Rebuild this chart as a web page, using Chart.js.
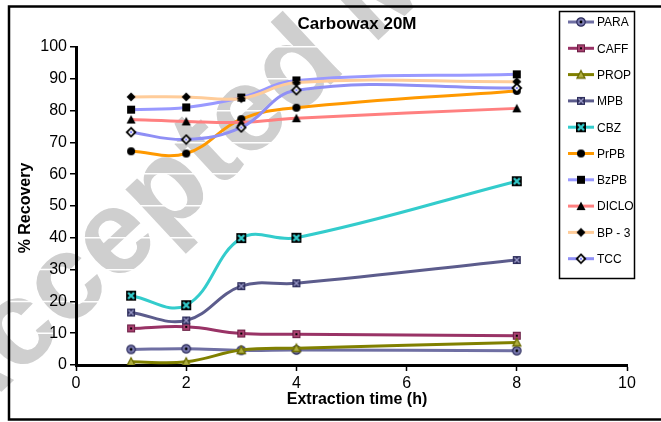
<!DOCTYPE html>
<html>
<head>
<meta charset="utf-8">
<script src="https://cdn.jsdelivr.net/npm/chart.js@4.4.0/dist/chart.umd.min.js"></script>
<style>
  html, body { margin: 0; padding: 0; background: #fff; }
  #wrap { width: 661px; height: 422px; position: relative; }
</style>
</head>
<body>
<div id="wrap"><canvas id="chartCarbowax" width="661" height="422"></canvas></div>
<script>
// extraction time (h)
var hours = [1, 2, 3, 4, 8];

// % recovery per compound
var para  = [4.9, 5.1, 4.6, 4.7, 4.5];
var caff  = [11.5, 12.0, 9.9, 9.7, 9.2];
var prop  = [1.0, 1.0, 4.7, 5.3, 7.1];
var mpb   = [16.5, 14.0, 24.8, 25.7, 33.0];
var cbz   = [21.8, 18.8, 39.9, 40.0, 57.8];
var prpb  = [67.2, 66.5, 77.3, 80.9, 86.2];
var bzpb  = [80.3, 81.0, 84.1, 89.5, 91.4];
var diclo = [77.2, 76.6, 76.3, 77.6, 80.7];
var bp3   = [84.3, 84.3, 83.8, 88.8, 89.1];
var tcc   = [73.2, 70.9, 74.7, 86.4, 87.1];

var names = ['PARA', 'CAFF', 'PROP', 'MPB', 'CBZ', 'PrPB', 'BzPB', 'DICLO', 'BP - 3', 'TCC'];
var series = [para, caff, prop, mpb, cbz, prpb, bzpb, diclo, bp3, tcc];
var yTicks = [0, 10, 20, 30, 40, 50, 60, 70, 80, 90, 100];
var xTicks = [0, 2, 4, 6, 8, 10];

var lineColors = ['#6f6fa3', '#993366', '#808000', '#5c5c8c', '#33cccc',
                  '#ff9900', '#9999ff', '#ff8080', '#ffcc99', '#8f8ff5'];

// small canvases used as point markers
function mk(size, draw) {
    var c = document.createElement('canvas');
    c.width = size; c.height = size;
    var g = c.getContext('2d');
    draw(g, size / 2);
    return c;
}
function tri(g, m, h) {
    g.beginPath();
    g.moveTo(m, m - h / 2 - 0.5);
    g.lineTo(m + h / 2 + 0.5, m + h / 2);
    g.lineTo(m - h / 2 - 0.5, m + h / 2);
    g.closePath();
}
function dia(g, m, r) {
    g.beginPath();
    g.moveTo(m, m - r); g.lineTo(m + r, m); g.lineTo(m, m + r); g.lineTo(m - r, m);
    g.closePath();
}

var markers = [
    mk(12, function(g, m) { // PARA
        g.beginPath(); g.arc(m, m, 4.2, 0, Math.PI * 2);
        g.fillStyle = '#7a7ab0'; g.fill();
        g.lineWidth = 1.2; g.strokeStyle = '#2b2b5c'; g.stroke();
        g.beginPath(); g.arc(m, m, 1.4, 0, Math.PI * 2); g.fillStyle = '#000'; g.fill();
    }),
    mk(10, function(g, m) { // CAFF
        g.fillStyle = '#a8406f'; g.fillRect(m - 3.5, m - 3.5, 7, 7);
        g.strokeStyle = '#6a1e44'; g.lineWidth = 1; g.strokeRect(m - 3.5, m - 3.5, 7, 7);
        g.fillStyle = '#000'; g.fillRect(m - 1, m - 1, 2, 2);
    }),
    mk(12, function(g, m) { // PROP
        tri(g, m, 7); g.fillStyle = '#b0b040'; g.fill();
        g.strokeStyle = '#6a6a00'; g.lineWidth = 1.3; g.stroke();
    }),
    mk(10, function(g, m) { // MPB
        g.fillStyle = '#2e2e5c'; g.fillRect(m - 4, m - 4, 8, 8);
        g.strokeStyle = '#9a9ac8'; g.lineWidth = 1.4;
        g.beginPath(); g.moveTo(m - 2.5, m - 2.5); g.lineTo(m + 2.5, m + 2.5);
        g.moveTo(m + 2.5, m - 2.5); g.lineTo(m - 2.5, m + 2.5); g.stroke();
    }),
    mk(12, function(g, m) { // CBZ
        g.fillStyle = '#000'; g.fillRect(m - 5, m - 5, 10, 10);
        g.strokeStyle = '#33cccc'; g.lineWidth = 2.4;
        g.beginPath(); g.moveTo(m - 3, m - 3); g.lineTo(m + 3, m + 3);
        g.moveTo(m + 3, m - 3); g.lineTo(m - 3, m + 3); g.stroke();
    }),
    mk(10, function(g, m) { // PrPB
        g.beginPath(); g.arc(m, m, 4, 0, Math.PI * 2); g.fillStyle = '#000'; g.fill();
    }),
    mk(10, function(g, m) { // BzPB
        g.fillStyle = '#000'; g.fillRect(m - 4, m - 4, 8, 8);
    }),
    mk(12, function(g, m) { // DICLO
        tri(g, m, 8); g.fillStyle = '#000'; g.fill();
    }),
    mk(12, function(g, m) { // BP-3
        dia(g, m, 4.5); g.fillStyle = '#000'; g.fill();
    }),
    mk(12, function(g, m) { // TCC
        dia(g, m, 4.3); g.fillStyle = '#fff'; g.fill();
        g.strokeStyle = '#000'; g.lineWidth = 1.8; g.stroke();
        g.beginPath(); g.arc(m, m, 1.1, 0, Math.PI * 2); g.fillStyle = '#6a6aff'; g.fill();
    })
];

var datasets = [];
for (var i = 0; i < series.length; i++) {
    datasets.push({
        label: names[i],
        data: hours.map(function(h, k) { return { x: h, y: series[i][k] }; }),
        borderColor: lineColors[i],
        borderWidth: 3,
        tension: 0.4,
        pointStyle: markers[i],
        pointRadius: 5,
        fill: false,
        order: series.length - i
    });
}

// watermark behind the plot, cut by white lines at the y ticks
var watermark = {
    id: 'watermark',
    beforeDraw: function(chart) {
        var g = chart.ctx;
        g.save();
        g.fillStyle = '#ffffff';
        g.fillRect(0, 0, chart.width, chart.height);
        g.save();
        g.translate(-47, 437);
        g.rotate(-43 * Math.PI / 180);
        g.font = 'bold 120px "Liberation Sans", Arial, sans-serif';
        g.fillStyle = '#cfcfcf';
        g.textBaseline = 'alphabetic';
        g.fillText('Accepted Manuscript', 0, 0);
        g.restore();
        var ys = chart.scales.y;
        g.strokeStyle = '#ffffff';
        g.lineWidth = 1.5;
        yTicks.forEach(function(v) {
            var py = ys.getPixelForValue(v);
            g.beginPath(); g.moveTo(10, py); g.lineTo(chart.chartArea.left, py); g.stroke();
        });
        g.restore();
    }
};

// titles, legend box and outer frame
var decor = {
    id: 'decor',
    afterDraw: function(chart) {
        var g = chart.ctx;
        g.save();
        g.fillStyle = '#000';
        g.textAlign = 'center';
        g.textBaseline = 'middle';
        g.font = 'bold 17px "Liberation Sans", Arial, sans-serif';
        g.fillText('Carbowax 20M', 357, 24);
        g.font = 'bold 16px "Liberation Sans", Arial, sans-serif';
        g.fillText('Extraction time (h)', 357, 400);
        g.save();
        g.translate(26, 208);
        g.rotate(-Math.PI / 2);
        g.font = 'bold 16px "Liberation Sans", Arial, sans-serif';
        g.fillText('% Recovery', 0, 0);
        g.restore();

        // legend
        g.fillStyle = '#fff';
        g.fillRect(559.5, 11.5, 75, 267);
        g.strokeStyle = '#000';
        g.lineWidth = 1.5;
        g.strokeRect(559.5, 11.5, 75, 267);
        g.font = '12px "Liberation Sans", Arial, sans-serif';
        g.textAlign = 'left';
        for (var i = 0; i < names.length; i++) {
            var y = 22 + i * 26.3;
            g.strokeStyle = lineColors[i];
            g.lineWidth = 3;
            g.beginPath(); g.moveTo(568, y); g.lineTo(594, y); g.stroke();
            var m = markers[i];
            g.drawImage(m, 581 - m.width / 2, y - m.height / 2);
            g.fillStyle = '#000';
            g.fillText(names[i], 597, y + 1);
        }

        // outer frame
        g.strokeStyle = '#000';
        g.lineWidth = 2.5;
        g.strokeRect(9, 6.5, 670, 413);
        g.restore();
    }
};

var ctx = document.getElementById('chartCarbowax');
var chartCarbowax = new Chart(ctx, {
    type: 'line',
    data: { datasets: datasets },
    options: {
        responsive: false,
        animation: false,
        events: [],
        layout: { padding: { left: 0, top: 47, right: 34, bottom: 0 } },
        plugins: {
            legend: { display: false },
            title: { display: false },
            tooltip: { enabled: false }
        },
        scales: {
            x: {
                type: 'linear',
                min: 0, max: 10,
                afterFit: function(scale) { scale.height = 57; },
                afterBuildTicks: function(scale) {
                    scale.ticks = xTicks.map(function(v) { return { value: v }; });
                },
                grid: { drawOnChartArea: false, tickColor: '#000', tickLength: 6, tickWidth: 1.5 },
                border: { color: '#000', width: 3 },
                ticks: {
                    color: '#000', padding: 3, autoSkip: false, maxRotation: 0,
                    font: { family: '"Liberation Sans", Arial, sans-serif', size: 16 }
                }
            },
            y: {
                min: 0, max: 100,
                afterFit: function(scale) { scale.width = 76; },
                afterBuildTicks: function(scale) {
                    scale.ticks = yTicks.map(function(v) { return { value: v }; });
                },
                grid: { color: '#ffffff', lineWidth: 1.5, tickColor: '#000', tickLength: 6, tickWidth: 1.5 },
                border: { color: '#000', width: 3 },
                ticks: {
                    color: '#000', padding: 3, autoSkip: false,
                    font: { family: '"Liberation Sans", Arial, sans-serif', size: 16 }
                }
            }
        }
    },
    plugins: [watermark, decor]
});
</script>
</body>
</html>
